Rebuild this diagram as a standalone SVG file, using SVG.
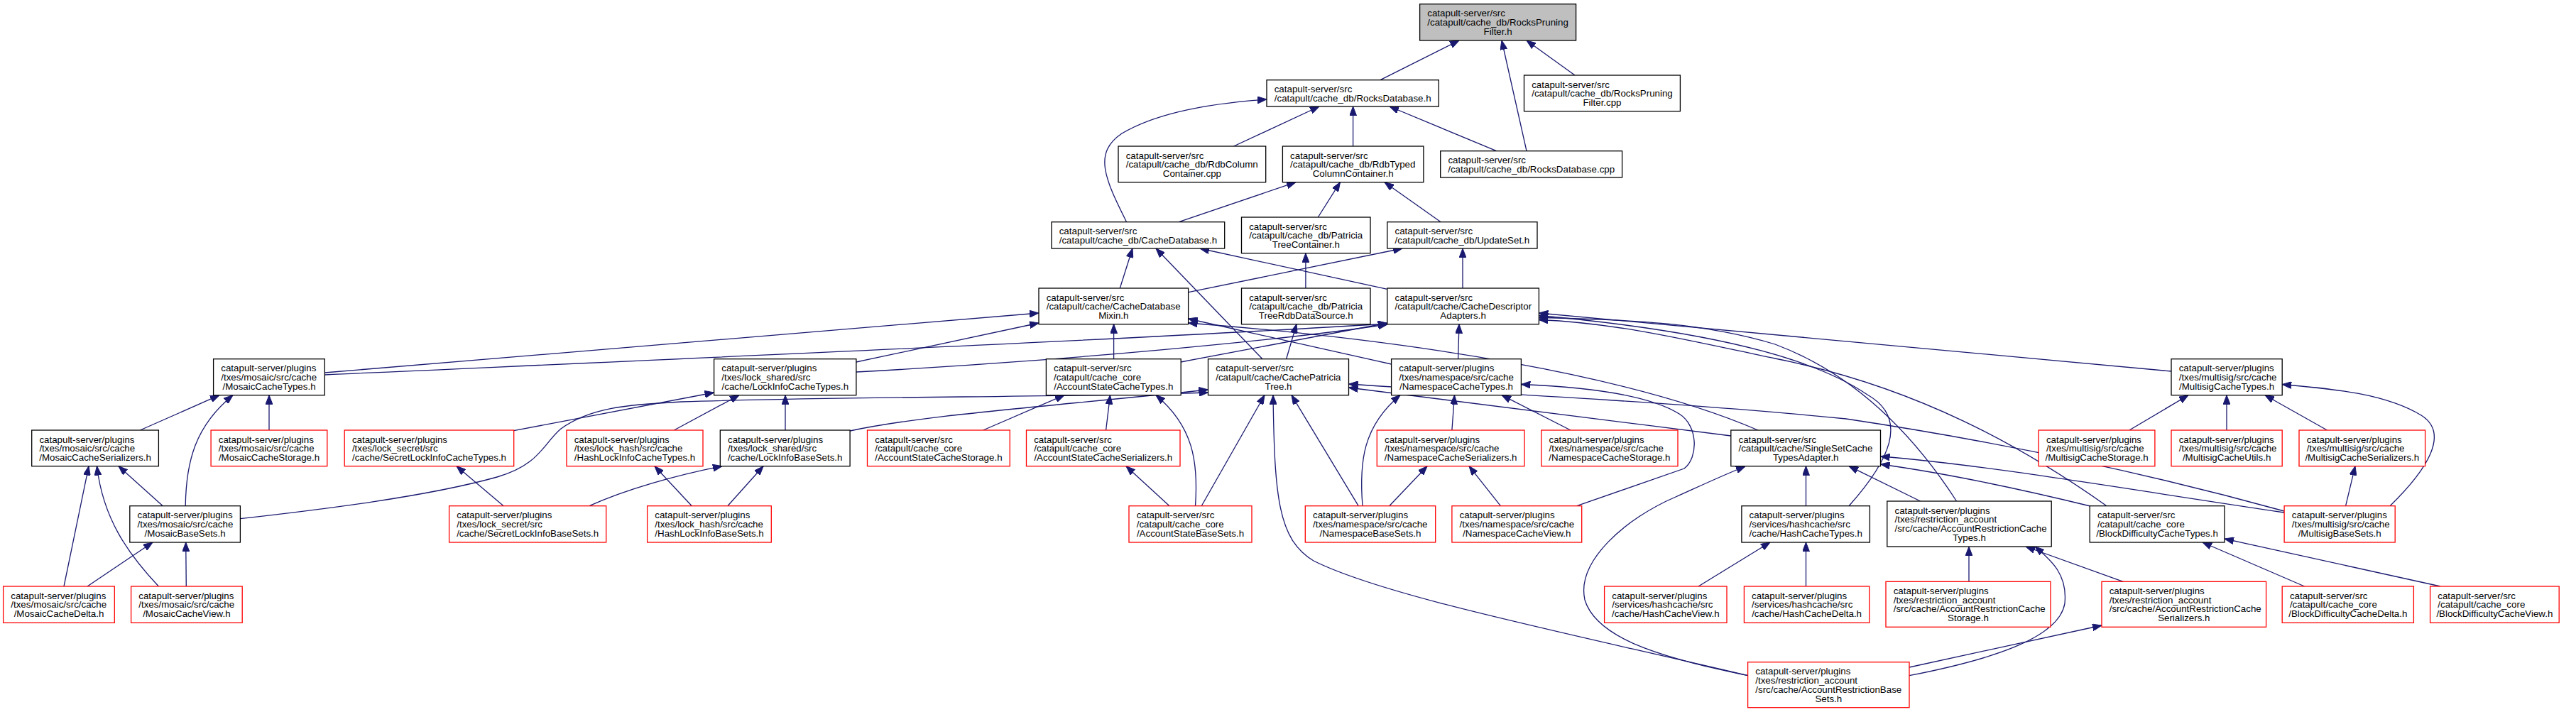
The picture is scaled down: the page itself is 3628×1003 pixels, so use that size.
<svg xmlns="http://www.w3.org/2000/svg" width="3628" height="1003" viewBox="0 0 3628 1003">
<style>
.node rect{fill:#fff;stroke:#000;stroke-width:1.3}
.node rect.r{stroke:#f00}
.node rect.g{fill:#bfbfbf}
text{font-family:"Liberation Sans",Arial,Helvetica,sans-serif;font-size:13.33px;fill:#000}
.c{text-anchor:middle}
.edges path{fill:none;stroke:#191970;stroke-width:1.3;marker-end:url(#ah)}
</style>
<defs>
<marker id="ah" viewBox="0 0 13 10" refX="13" refY="5" markerWidth="13" markerHeight="10" markerUnits="userSpaceOnUse" orient="auto"><path d="M0,0L13,5L0,10z" fill="#191970" stroke="#191970" stroke-width="1"/></marker>
</defs>
<rect width="3628" height="1003" fill="#fff"/>
<g class="edges">
<path d="M1944,112.7 L2055,57"/>
<path d="M2150,212.7 L2115,57"/>
<path d="M2218,106 L2150,57"/>
<path d="M1737.5,206 L1858,150"/>
<path d="M1905.6,206 L1905.6,150"/>
<path d="M2107.6,212.7 L1957,150"/>
<path d="M1586.6,312.7 C1555,250 1540,215 1580,188 C1630,158 1710,145 1784,140"/>
<path d="M1660.3,312.7 L1825,256.7"/>
<path d="M1856.3,306 L1887.5,256.7"/>
<path d="M2029.2,312.7 L1950,256.7"/>
<path d="M1577.3,406 L1595,350"/>
<path d="M1778,505.7 L1628,350"/>
<path d="M1953.8,407.3 L1690,350"/>
<path d="M1838.9,406 L1838.9,356.7"/>
<path d="M1674,411.7 L1975,350"/>
<path d="M2060,406 L2060,350"/>
<path d="M1811.6,505.7 L1826,456.7"/>
<path d="M457.3,525 L1463,441"/>
<path d="M457.3,528 C900,508 1600,478 1954,456"/>
<path d="M1206,510 L1463,455"/>
<path d="M1206,524 C1500,508 1800,480 1954,457"/>
<path d="M1568.6,505.7 L1568.6,456.7"/>
<path d="M1663,510 L1954,455"/>
<path d="M1959.6,513 L1673.6,449"/>
<path d="M2053.6,505.7 L2055,456.7"/>
<path d="M2476,606 C2300,530 2000,480 1673.6,455"/>
<path d="M3058,523 L2167.4,441"/>
<path d="M2604,712.7 C2660,650 2690,590 2630,556 C2570,515 2450,470 2167.4,444.5"/>
<path d="M2755.6,706 C2700,620 2620,530 2500,485 C2400,455 2300,450 2167.4,447.5"/>
<path d="M2967,712.7 C2850,630 2700,545 2500,505 C2380,480 2280,455 2167.4,450.5"/>
<path d="M197.3,606 L309,556.7"/>
<path d="M379,606 L379,556.7"/>
<path d="M261.2,712.7 C262,650 275,600 328,556.7"/>
<path d="M229.3,712.7 L167,656.7"/>
<path d="M90,826 L125,656.7"/>
<path d="M223.4,826 C180,780 145,730 136.5,656.7"/>
<path d="M123,826 L215,764"/>
<path d="M262.3,826 L261.7,764"/>
<path d="M338.4,730.7 C450,718 600,700 700,672 C760,655 765,625 790,604 C830,575 880,570 960,566 C1200,558 1500,560 1701.5,553"/>
<path d="M723.7,606.7 L1005.6,553"/>
<path d="M949.3,606 L1041,556.7"/>
<path d="M1106,606 L1106,556.7"/>
<path d="M709.2,712.7 L643,656.7"/>
<path d="M830,712.7 C880,690 950,670 1017,656.7"/>
<path d="M974.3,712.7 L922,656.7"/>
<path d="M1024.8,712.7 L1075,656.7"/>
<path d="M1197.1,607 C1300,585 1450,575 1701.5,549"/>
<path d="M1384.6,606 L1499,556.7"/>
<path d="M1557.6,606 L1563.5,556.7"/>
<path d="M1683.5,712.7 C1688,650 1680,600 1628,556.7"/>
<path d="M1647,712.7 L1586,656.7"/>
<path d="M1692.2,712.7 L1781,556.7"/>
<path d="M1913.2,712.7 L1819,556.7"/>
<path d="M2461.6,951.7 C2200,890 1950,840 1850,790 C1800,760 1795,700 1793,556.7"/>
<path d="M2437.8,614 C2250,590 2050,566 1899.5,546"/>
<path d="M3217,720 C3000,660 2800,620 2600,590 C2350,565 2100,555 1899.5,541"/>
<path d="M2044.9,606 L2048.5,556.7"/>
<path d="M2212,606 L2115,556.7"/>
<path d="M1919,712.7 C1914,650 1920,600 1972,556.7"/>
<path d="M2220.8,712.7 L2372,660 C2392,645 2392,600 2365,583 C2320,555 2230,545 2142.4,541.5"/>
<path d="M1956.7,712.7 L2010,656.7"/>
<path d="M2113.4,712.7 L2069,656.7"/>
<path d="M2543.5,712.7 L2543.5,656.7"/>
<path d="M2704.6,706 L2604,656.7"/>
<path d="M2944,713 C2850,690 2750,668 2648.5,654"/>
<path d="M3217,722 C3000,690 2800,655 2648.5,643"/>
<path d="M2461.6,951.7 C2360,930 2250,905 2232,845 C2220,790 2290,730 2360,700 C2400,682 2430,668 2458,657"/>
<path d="M2392,826 L2493,764"/>
<path d="M2543.5,826 L2543.5,764"/>
<path d="M2773,819.3 L2773,770"/>
<path d="M2990.2,819.3 L2853,770"/>
<path d="M2689,951.7 C2800,930 2900,900 2908,850 C2912,810 2890,790 2866,770"/>
<path d="M2689,940 L2960,881"/>
<path d="M3245.6,826 L3102,764"/>
<path d="M3437,826 L3133,759"/>
<path d="M2998.9,606 L3082,556.7"/>
<path d="M3136,606 L3136,556.7"/>
<path d="M3277.5,606 L3190,556.7"/>
<path d="M3366,712.7 C3420,660 3450,610 3410,585 C3360,555 3290,548 3214.2,541.5"/>
<path d="M3303.6,712.7 L3317,656.7"/>
</g>
<g id="n1" class="node"><rect class="g" x="1999.6" y="5.7" width="220" height="51.3"/><text><tspan x="2010.3" y="23.2">catapult-server/src</tspan><tspan x="2010.3" y="36">/catapult/cache_db/RocksPruning</tspan></text><text class="c" x="2109.6" y="48.8">Filter.h</text></g>
<g id="n2" class="node"><rect x="1784" y="112.7" width="242.3" height="37.3"/><text x="1794.7" y="130.2">catapult-server/src</text><text class="c" x="1905.2" y="143">/catapult/cache_db/RocksDatabase.h</text></g>
<g id="n3" class="node"><rect x="2146.5" y="106" width="219.9" height="50.7"/><text><tspan x="2157.2" y="123.5">catapult-server/src</tspan><tspan x="2157.2" y="136.3">/catapult/cache_db/RocksPruning</tspan></text><text class="c" x="2256.5" y="149.1">Filter.cpp</text></g>
<g id="n4" class="node"><rect x="1575" y="206" width="207.7" height="50.7"/><text><tspan x="1585.7" y="223.5">catapult-server/src</tspan><tspan x="1585.7" y="236.3">/catapult/cache_db/RdbColumn</tspan></text><text class="c" x="1678.9" y="249.1">Container.cpp</text></g>
<g id="n5" class="node"><rect x="1806.4" y="206" width="198.5" height="50.7"/><text><tspan x="1817.1" y="223.5">catapult-server/src</tspan><tspan x="1817.1" y="236.3">/catapult/cache_db/RdbTyped</tspan></text><text class="c" x="1905.7" y="249.1">ColumnContainer.h</text></g>
<g id="n6" class="node"><rect x="2028.7" y="212.7" width="255.9" height="37.3"/><text x="2039.4" y="230.2">catapult-server/src</text><text class="c" x="2156.7" y="243">/catapult/cache_db/RocksDatabase.cpp</text></g>
<g id="n7" class="node"><rect x="1481" y="312.7" width="243.7" height="37.3"/><text x="1491.7" y="330.2">catapult-server/src</text><text class="c" x="1602.9" y="343">/catapult/cache_db/CacheDatabase.h</text></g>
<g id="n8" class="node"><rect x="1748.5" y="306" width="181.5" height="50.7"/><text><tspan x="1759.2" y="323.5">catapult-server/src</tspan><tspan x="1759.2" y="336.3">/catapult/cache_db/Patricia</tspan></text><text class="c" x="1839.3" y="349.1">TreeContainer.h</text></g>
<g id="n9" class="node"><rect x="1953.8" y="312.7" width="211.2" height="37.3"/><text x="1964.5" y="330.2">catapult-server/src</text><text class="c" x="2059.4" y="343">/catapult/cache_db/UpdateSet.h</text></g>
<g id="n10" class="node"><rect x="1463" y="406" width="210.6" height="50.7"/><text><tspan x="1473.7" y="423.5">catapult-server/src</tspan><tspan x="1473.7" y="436.3">/catapult/cache/CacheDatabase</tspan></text><text class="c" x="1568.3" y="449.1">Mixin.h</text></g>
<g id="n11" class="node"><rect x="1748.5" y="406" width="181.5" height="50.7"/><text><tspan x="1759.2" y="423.5">catapult-server/src</tspan><tspan x="1759.2" y="436.3">/catapult/cache_db/Patricia</tspan></text><text class="c" x="1839.3" y="449.1">TreeRdbDataSource.h</text></g>
<g id="n12" class="node"><rect x="1953.8" y="406" width="213.6" height="50.7"/><text><tspan x="1964.5" y="423.5">catapult-server/src</tspan><tspan x="1964.5" y="436.3">/catapult/cache/CacheDescriptor</tspan></text><text class="c" x="2060.6" y="449.1">Adapters.h</text></g>
<g id="n13" class="node"><rect x="300.6" y="505.7" width="156.7" height="51"/><text><tspan x="311.3" y="523.2">catapult-server/plugins</tspan><tspan x="311.3" y="536">/txes/mosaic/src/cache</tspan></text><text class="c" x="379" y="548.8">/MosaicCacheTypes.h</text></g>
<g id="n14" class="node"><rect x="1005.6" y="505.7" width="200.3" height="51"/><text><tspan x="1016.3" y="523.2">catapult-server/plugins</tspan><tspan x="1016.3" y="536">/txes/lock_shared/src</tspan></text><text class="c" x="1105.8" y="548.8">/cache/LockInfoCacheTypes.h</text></g>
<g id="n15" class="node"><rect x="1473.4" y="505.7" width="189.8" height="51"/><text><tspan x="1484.1" y="523.2">catapult-server/src</tspan><tspan x="1484.1" y="536">/catapult/cache_core</tspan></text><text class="c" x="1568.3" y="548.8">/AccountStateCacheTypes.h</text></g>
<g id="n16" class="node"><rect x="1701.5" y="505.7" width="198" height="51"/><text><tspan x="1712.2" y="523.2">catapult-server/src</tspan><tspan x="1712.2" y="536">/catapult/cache/CachePatricia</tspan></text><text class="c" x="1800.5" y="548.8">Tree.h</text></g>
<g id="n17" class="node"><rect x="1959.6" y="505.7" width="182.8" height="51"/><text><tspan x="1970.3" y="523.2">catapult-server/plugins</tspan><tspan x="1970.3" y="536">/txes/namespace/src/cache</tspan></text><text class="c" x="2051" y="548.8">/NamespaceCacheTypes.h</text></g>
<g id="n18" class="node"><rect x="3058" y="505.7" width="156.2" height="51"/><text><tspan x="3068.7" y="523.2">catapult-server/plugins</tspan><tspan x="3068.7" y="536">/txes/multisig/src/cache</tspan></text><text class="c" x="3136.1" y="548.8">/MultisigCacheTypes.h</text></g>
<g id="n19" class="node"><rect x="44.7" y="606" width="178.7" height="50.7"/><text><tspan x="55.4" y="623.5">catapult-server/plugins</tspan><tspan x="55.4" y="636.3">/txes/mosaic/src/cache</tspan></text><text class="c" x="134.1" y="649.1">/MosaicCacheSerializers.h</text></g>
<g id="n20" class="node"><rect class="r" x="297.1" y="606" width="163.7" height="50.7"/><text><tspan x="307.8" y="623.5">catapult-server/plugins</tspan><tspan x="307.8" y="636.3">/txes/mosaic/src/cache</tspan></text><text class="c" x="379" y="649.1">/MosaicCacheStorage.h</text></g>
<g id="n21" class="node"><rect class="r" x="485.2" y="606" width="238.5" height="50.7"/><text><tspan x="495.9" y="623.5">catapult-server/plugins</tspan><tspan x="495.9" y="636.3">/txes/lock_secret/src</tspan></text><text class="c" x="604.5" y="649.1">/cache/SecretLockInfoCacheTypes.h</text></g>
<g id="n22" class="node"><rect class="r" x="798" y="606" width="192" height="50.7"/><text><tspan x="808.7" y="623.5">catapult-server/plugins</tspan><tspan x="808.7" y="636.3">/txes/lock_hash/src/cache</tspan></text><text class="c" x="894" y="649.1">/HashLockInfoCacheTypes.h</text></g>
<g id="n23" class="node"><rect x="1014.3" y="606" width="182.8" height="50.7"/><text><tspan x="1025" y="623.5">catapult-server/plugins</tspan><tspan x="1025" y="636.3">/txes/lock_shared/src</tspan></text><text class="c" x="1105.7" y="649.1">/cache/LockInfoBaseSets.h</text></g>
<g id="n24" class="node"><rect class="r" x="1221.5" y="606" width="200.8" height="50.7"/><text><tspan x="1232.2" y="623.5">catapult-server/src</tspan><tspan x="1232.2" y="636.3">/catapult/cache_core</tspan></text><text class="c" x="1321.9" y="649.1">/AccountStateCacheStorage.h</text></g>
<g id="n25" class="node"><rect class="r" x="1445.5" y="606" width="216.5" height="50.7"/><text><tspan x="1456.2" y="623.5">catapult-server/src</tspan><tspan x="1456.2" y="636.3">/catapult/cache_core</tspan></text><text class="c" x="1553.8" y="649.1">/AccountStateCacheSerializers.h</text></g>
<g id="n26" class="node"><rect class="r" x="1939.3" y="606" width="207.7" height="50.7"/><text><tspan x="1950" y="623.5">catapult-server/plugins</tspan><tspan x="1950" y="636.3">/txes/namespace/src/cache</tspan></text><text class="c" x="2043.2" y="649.1">/NamespaceCacheSerializers.h</text></g>
<g id="n27" class="node"><rect class="r" x="2170.8" y="606" width="192.2" height="50.7"/><text><tspan x="2181.5" y="623.5">catapult-server/plugins</tspan><tspan x="2181.5" y="636.3">/txes/namespace/src/cache</tspan></text><text class="c" x="2266.9" y="649.1">/NamespaceCacheStorage.h</text></g>
<g id="n28" class="node"><rect x="2437.8" y="606" width="210.7" height="50.7"/><text><tspan x="2448.5" y="623.5">catapult-server/src</tspan><tspan x="2448.5" y="636.3">/catapult/cache/SingleSetCache</tspan></text><text class="c" x="2543.2" y="649.1">TypesAdapter.h</text></g>
<g id="n29" class="node"><rect class="r" x="2871.2" y="606" width="163.7" height="50.7"/><text><tspan x="2881.9" y="623.5">catapult-server/plugins</tspan><tspan x="2881.9" y="636.3">/txes/multisig/src/cache</tspan></text><text class="c" x="2953.1" y="649.1">/MultisigCacheStorage.h</text></g>
<g id="n30" class="node"><rect class="r" x="3058" y="606" width="156.2" height="50.7"/><text><tspan x="3068.7" y="623.5">catapult-server/plugins</tspan><tspan x="3068.7" y="636.3">/txes/multisig/src/cache</tspan></text><text class="c" x="3136.1" y="649.1">/MultisigCacheUtils.h</text></g>
<g id="n31" class="node"><rect class="r" x="3238" y="606" width="177.6" height="50.7"/><text><tspan x="3248.7" y="623.5">catapult-server/plugins</tspan><tspan x="3248.7" y="636.3">/txes/multisig/src/cache</tspan></text><text class="c" x="3326.8" y="649.1">/MultisigCacheSerializers.h</text></g>
<g id="n32" class="node"><rect x="182.8" y="712.7" width="155.6" height="51.3"/><text><tspan x="193.5" y="730.2">catapult-server/plugins</tspan><tspan x="193.5" y="743">/txes/mosaic/src/cache</tspan></text><text class="c" x="260.6" y="755.8">/MosaicBaseSets.h</text></g>
<g id="n33" class="node"><rect class="r" x="632.6" y="712.7" width="221.1" height="51.3"/><text><tspan x="643.3" y="730.2">catapult-server/plugins</tspan><tspan x="643.3" y="743">/txes/lock_secret/src</tspan></text><text class="c" x="743.2" y="755.8">/cache/SecretLockInfoBaseSets.h</text></g>
<g id="n34" class="node"><rect class="r" x="911.6" y="712.7" width="174.7" height="51.3"/><text><tspan x="922.3" y="730.2">catapult-server/plugins</tspan><tspan x="922.3" y="743">/txes/lock_hash/src/cache</tspan></text><text class="c" x="999" y="755.8">/HashLockInfoBaseSets.h</text></g>
<g id="n35" class="node"><rect class="r" x="1590" y="712.7" width="173" height="51.3"/><text><tspan x="1600.7" y="730.2">catapult-server/src</tspan><tspan x="1600.7" y="743">/catapult/cache_core</tspan></text><text class="c" x="1676.5" y="755.8">/AccountStateBaseSets.h</text></g>
<g id="n36" class="node"><rect class="r" x="1838.3" y="712.7" width="183.4" height="51.3"/><text><tspan x="1849" y="730.2">catapult-server/plugins</tspan><tspan x="1849" y="743">/txes/namespace/src/cache</tspan></text><text class="c" x="1930" y="755.8">/NamespaceBaseSets.h</text></g>
<g id="n37" class="node"><rect class="r" x="2044.9" y="712.7" width="182.8" height="51.3"/><text><tspan x="2055.6" y="730.2">catapult-server/plugins</tspan><tspan x="2055.6" y="743">/txes/namespace/src/cache</tspan></text><text class="c" x="2136.3" y="755.8">/NamespaceCacheView.h</text></g>
<g id="n38" class="node"><rect x="2452.9" y="712.7" width="180.5" height="51.3"/><text><tspan x="2463.6" y="730.2">catapult-server/plugins</tspan><tspan x="2463.6" y="743">/services/hashcache/src</tspan></text><text class="c" x="2543.2" y="755.8">/cache/HashCacheTypes.h</text></g>
<g id="n39" class="node"><rect x="2657.8" y="706" width="231.4" height="64"/><text><tspan x="2668.5" y="723.5">catapult-server/plugins</tspan><tspan x="2668.5" y="736.3">/txes/restriction_account</tspan><tspan x="2668.5" y="749.1">/src/cache/AccountRestrictionCache</tspan></text><text class="c" x="2773.5" y="761.9">Types.h</text></g>
<g id="n40" class="node"><rect x="2943.2" y="712.7" width="189.8" height="51.3"/><text><tspan x="2953.9" y="730.2">catapult-server/src</tspan><tspan x="2953.9" y="743">/catapult/cache_core</tspan></text><text class="c" x="3038.1" y="755.8">/BlockDifficultyCacheTypes.h</text></g>
<g id="n41" class="node"><rect class="r" x="3217.1" y="712.7" width="156.1" height="51.3"/><text><tspan x="3227.8" y="730.2">catapult-server/plugins</tspan><tspan x="3227.8" y="743">/txes/multisig/src/cache</tspan></text><text class="c" x="3295.2" y="755.8">/MultisigBaseSets.h</text></g>
<g id="n42" class="node"><rect class="r" x="4.6" y="826" width="156.7" height="51.3"/><text><tspan x="15.3" y="843.5">catapult-server/plugins</tspan><tspan x="15.3" y="856.3">/txes/mosaic/src/cache</tspan></text><text class="c" x="83" y="869.1">/MosaicCacheDelta.h</text></g>
<g id="n43" class="node"><rect class="r" x="184.6" y="826" width="156.6" height="51.3"/><text><tspan x="195.3" y="843.5">catapult-server/plugins</tspan><tspan x="195.3" y="856.3">/txes/mosaic/src/cache</tspan></text><text class="c" x="262.9" y="869.1">/MosaicCacheView.h</text></g>
<g id="n44" class="node"><rect class="r" x="2259.6" y="826" width="172.4" height="51.3"/><text><tspan x="2270.3" y="843.5">catapult-server/plugins</tspan><tspan x="2270.3" y="856.3">/services/hashcache/src</tspan></text><text class="c" x="2345.8" y="869.1">/cache/HashCacheView.h</text></g>
<g id="n45" class="node"><rect class="r" x="2456.4" y="826" width="176.4" height="51.3"/><text><tspan x="2467.1" y="843.5">catapult-server/plugins</tspan><tspan x="2467.1" y="856.3">/services/hashcache/src</tspan></text><text class="c" x="2544.6" y="869.1">/cache/HashCacheDelta.h</text></g>
<g id="n46" class="node"><rect class="r" x="2656" y="819.3" width="232" height="64"/><text><tspan x="2666.7" y="836.8">catapult-server/plugins</tspan><tspan x="2666.7" y="849.6">/txes/restriction_account</tspan><tspan x="2666.7" y="862.4">/src/cache/AccountRestrictionCache</tspan></text><text class="c" x="2772" y="875.2">Storage.h</text></g>
<g id="n47" class="node"><rect class="r" x="2960" y="819.3" width="231.6" height="64"/><text><tspan x="2970.7" y="836.8">catapult-server/plugins</tspan><tspan x="2970.7" y="849.6">/txes/restriction_account</tspan><tspan x="2970.7" y="862.4">/src/cache/AccountRestrictionCache</tspan></text><text class="c" x="3075.8" y="875.2">Serializers.h</text></g>
<g id="n48" class="node"><rect class="r" x="3214.2" y="826" width="185.2" height="51.3"/><text><tspan x="3224.9" y="843.5">catapult-server/src</tspan><tspan x="3224.9" y="856.3">/catapult/cache_core</tspan></text><text class="c" x="3306.8" y="869.1">/BlockDifficultyCacheDelta.h</text></g>
<g id="n49" class="node"><rect class="r" x="3422.6" y="826" width="181.6" height="51.3"/><text><tspan x="3433.3" y="843.5">catapult-server/src</tspan><tspan x="3433.3" y="856.3">/catapult/cache_core</tspan></text><text class="c" x="3513.4" y="869.1">/BlockDifficultyCacheView.h</text></g>
<g id="n50" class="node"><rect class="r" x="2461.6" y="932.7" width="227.4" height="64"/><text><tspan x="2472.3" y="950.2">catapult-server/plugins</tspan><tspan x="2472.3" y="963">/txes/restriction_account</tspan><tspan x="2472.3" y="975.8">/src/cache/AccountRestrictionBase</tspan></text><text class="c" x="2575.3" y="988.6">Sets.h</text></g>
</svg>
